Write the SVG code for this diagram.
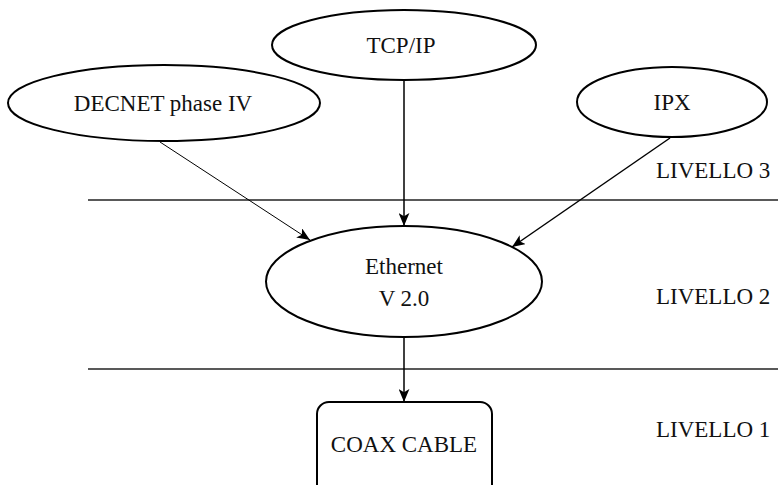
<svg xmlns="http://www.w3.org/2000/svg" width="778" height="485" viewBox="0 0 778 485">
<defs>
<style>
text{font-family:'Liberation Serif','Times New Roman',Times,'DejaVu Serif',serif;font-size:23px;fill:#111}
.n{fill:#fff;stroke:#000;stroke-width:2}
.t{text-anchor:middle}
.h{stroke:#222;stroke-width:1.6}
.e{stroke:#000;fill:none}
</style>
<marker id="ah" viewBox="0 0 12 10" refX="12" refY="5" markerWidth="13" markerHeight="11" markerUnits="userSpaceOnUse" orient="auto">
<path d="M0,0 L12,5 L0,10 L3,5 Z" fill="#000"/>
</marker>
</defs>
<g id="levels">
<line class="h" x1="88" y1="200" x2="778" y2="200"/>
<line class="h" x1="88" y1="369" x2="778" y2="369"/>
<text x="656" y="178">LIVELLO 3</text>
<text x="656" y="304">LIVELLO 2</text>
<text x="656" y="437">LIVELLO 1</text>
</g>
<g id="connectors">
<line class="e" stroke-width="1" x1="160" y1="142" x2="310" y2="240" marker-end="url(#ah)"/>
<line class="e" stroke-width="1.5" x1="404" y1="80" x2="404" y2="226" marker-end="url(#ah)"/>
<line class="e" stroke-width="1.5" x1="670" y1="138" x2="512" y2="247" marker-end="url(#ah)"/>
<line class="e" stroke-width="1.5" x1="404" y1="337" x2="404" y2="402" marker-end="url(#ah)"/>
</g>
<g id="decnet">
<ellipse class="n" cx="164" cy="103" rx="156" ry="38"/>
<text class="t" x="163" y="111">DECNET phase IV</text>
</g>
<g id="tcpip">
<ellipse class="n" cx="404" cy="45" rx="132" ry="35"/>
<text class="t" x="401" y="53">TCP/IP</text>
</g>
<g id="ipx">
<ellipse class="n" cx="672" cy="102" rx="95" ry="35"/>
<text class="t" x="672" y="110">IPX</text>
</g>
<g id="ethernet">
<ellipse class="n" cx="404" cy="281.5" rx="138" ry="55.5"/>
<text class="t" x="404" y="274">Ethernet</text>
<text class="t" x="404" y="306">V 2.0</text>
</g>
<g id="coax">
<rect class="n" x="317" y="402" width="175" height="100" rx="12"/>
<text class="t" x="404" y="452">COAX CABLE</text>
</g>
</svg>
